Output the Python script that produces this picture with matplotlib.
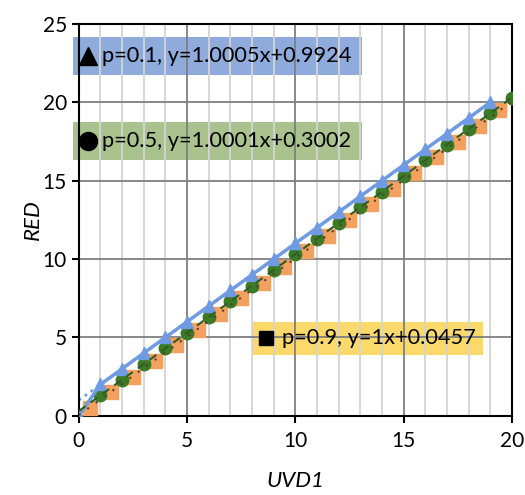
import numpy as np
import matplotlib
matplotlib.use("Agg")
import matplotlib.pyplot as plt
from matplotlib.patches import Rectangle
from matplotlib.ticker import MultipleLocator

# Data
uvd_p01 = [0, 1, 2, 3, 4, 5, 6, 7, 8, 9, 10, 11, 12, 13, 14, 15, 16, 17, 18, 19]
red_p01 = [0, 2.0, 3.0, 4.0, 5.0, 6.0, 7.0, 8.0, 9.0, 10.0, 11.0, 12.0, 13.0, 14.0, 15.0, 16.0, 17.0, 18.0, 19.0, 20.0]

uvd_p05 = [1, 2, 3, 4, 5, 6, 7, 8, 9, 10, 11, 12, 13, 14, 15, 16, 17, 18, 19, 20]
red_p05 = [1.3, 2.3, 3.3, 4.3, 5.3, 6.3, 7.3, 8.3, 9.3, 10.3, 11.3, 12.3, 13.3, 14.3, 15.3, 16.3, 17.3, 18.3, 19.3, 20.3]

uvd_p09 = [0.5, 1.5, 2.5, 3.5, 4.5, 5.5, 6.5, 7.5, 8.5, 9.5, 10.5, 11.5, 12.5, 13.5, 14.5, 15.5, 16.5, 17.5, 18.5, 19.4]
red_p09 = [0.5, 1.5, 2.5, 3.5, 4.5, 5.5, 6.5, 7.5, 8.5, 9.5, 10.5, 11.5, 12.5, 13.5, 14.5, 15.5, 16.5, 17.5, 18.5, 19.5]

# fitted trend lines (slope, intercept)
fits = {"p01": (1.0005, 0.9924), "p05": (1.0001, 0.3002), "p09": (1.0, 0.0457)}

labels = ["p=0.1, y=1.0005x+0.9924",
          "p=0.5, y=1.0001x+0.3002",
          "p=0.9, y=1x+0.0457"]

blue = "#6f9be2"
green = "#3b7a26"
orange = "#f4a05e"

plt.rcParams["font.family"] = ["Lato", "DejaVu Sans"]

fig = plt.figure(figsize=(5.25, 4.95), dpi=100)
ax = fig.add_axes([0.150, 0.160, 0.825, 0.7915])

ax.set_xlim(0, 20)
ax.set_ylim(0, 25)
ax.xaxis.set_major_locator(MultipleLocator(5))
ax.xaxis.set_minor_locator(MultipleLocator(1))
ax.yaxis.set_major_locator(MultipleLocator(5))

ax.set_axisbelow(True)
ax.grid(which="minor", axis="x", color="#d4d4d4", lw=1.3)
ax.grid(which="major", axis="both", color="#7f7f7f", lw=1.3)

# label boxes (behind the grid, like the reference)
boxes = [(-0.28, 21.75, 13.35, 2.42, "#8eabdc"),
         (-0.28, 16.33, 13.35, 2.42, "#a9c28e"),
         (7.99, 3.89, 10.67, 2.11, "#fbd96b")]
for bx, by, bw, bh, fc in boxes:
    ax.add_patch(Rectangle((bx, by), bw, bh, fc=fc, ec="none", zorder=0.2, clip_on=False))

# trend lines
xx = np.array([0, 20])
ax.plot([0, 19], [fits["p01"][1], fits["p01"][0] * 19 + fits["p01"][1]],
        ls=":", color=blue, lw=2, zorder=2)
ax.plot(xx, fits["p05"][0] * xx + fits["p05"][1], ls=(0, (4, 3)), color="#2f5e1f", lw=1.5, zorder=4)
ax.plot(xx, fits["p09"][0] * xx + fits["p09"][1], ls=(0, (1, 4)), color="#5a3e2a", lw=1.5, zorder=4)

# series
ax.plot(uvd_p09, red_p09, ls="none", marker="s", ms=10, color=orange, zorder=3)
ax.plot(uvd_p05, red_p05, ls="none", marker="o", ms=9, color=green, zorder=3)
ax.plot(uvd_p01, red_p01, ls="-", lw=2.5, marker="^", ms=9, color=blue, zorder=3)

# label markers and text
ax.plot([0.42], [22.96], marker="^", ms=13, color="black", clip_on=False, zorder=6)
ax.plot([0.42], [17.54], marker="o", ms=13, color="black", clip_on=False, zorder=6)
ax.plot([8.64], [4.94], marker="s", ms=10.5, color="black", clip_on=False, zorder=6)
tk = dict(fontsize=15.7, va="center", ha="left", clip_on=False, zorder=6)
ax.text(1.06, 22.96, labels[0], **tk)
ax.text(1.06, 17.54, labels[1], **tk)
ax.text(9.38, 4.94, labels[2], **tk)

for s in ax.spines.values():
    s.set_color("black")
    s.set_linewidth(1.5)
ax.tick_params(which="major", direction="out", length=5, width=1.5, labelsize=15, colors="black")
ax.tick_params(which="minor", length=0)
ax.tick_params(axis="x", pad=6)

ax.set_xlabel("UVD1", fontsize=16, style="italic", labelpad=14)
ax.set_ylabel("RED", fontsize=16, style="italic", labelpad=0)

fig.savefig("out.png", dpi=100)
